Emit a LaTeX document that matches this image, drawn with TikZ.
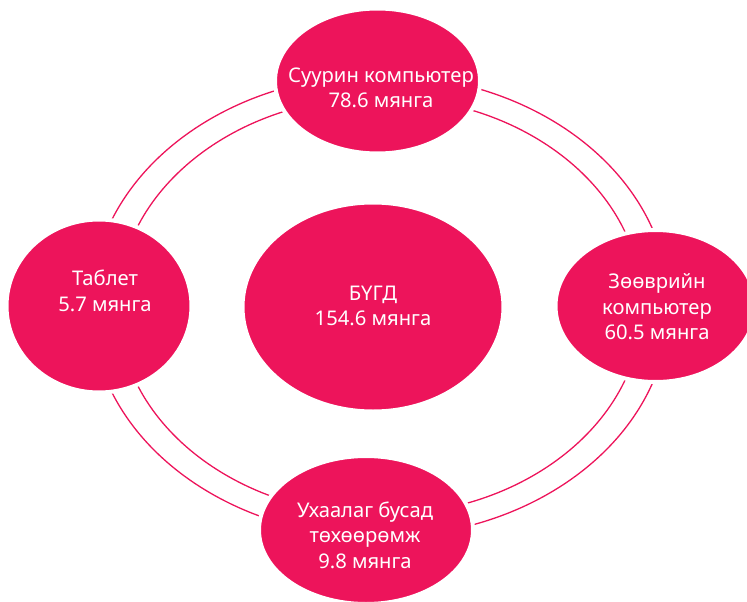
\documentclass[tikz,border=0pt]{standalone}
\usepackage{fontspec}
\setmainfont{Noto Sans}
\usepackage{tikz}
\usetikzlibrary{shapes.geometric}
\definecolor{dvpink}{RGB}{237,20,91}

\begin{document}
\begin{tikzpicture}[x=1pt,y=-1pt,
    font=\fontsize{20.2}{25.5}\selectfont,
    blob/.style={ellipse,fill=dvpink,draw=white,line width=4pt,inner sep=0pt},
    lbl/.style={text=white,align=center},
    ring/.style={draw=dvpink,line width=1.3pt}]
    \useasboundingbox (0,0) rectangle (747,602);
    % double ring behind the bubbles
    \coordinate (mid) at (380,306);
    \draw[ring] (mid) ellipse [x radius=289pt,y radius=231pt];
    \draw[ring] (mid) ellipse [x radius=262pt,y radius=209pt];

    \node[blob,minimum width=205pt,minimum height=145pt] (desk) at (377.5,81) {};
    \node[blob,minimum width=185pt,minimum height=173pt] (tab) at (99,306) {};
    \node[blob,minimum width=261pt,minimum height=209pt] (all) at (373,307) {};
    \node[blob,minimum width=200pt,minimum height=152pt] (lap) at (655.5,306) {};
    \node[blob,minimum width=214pt,minimum height=148pt] (smart) at (366,530) {};

    \node[lbl] (desk-t) at (381,88) {Суурин компьютер\\78.6 мянга};
    \node[lbl] (tab-t) at (105,291) {Таблет\\5.7 мянга};
    \node[lbl] (all-t) at (373,306) {БҮГД\\154.6 мянга};
    \node[lbl] (lap-t) at (657,307) {Зөөврийн\\компьютер\\60.5 мянга};
    \node[lbl] (smart-t) at (365,535) {Ухаалаг бусад\\төхөөрөмж\\9.8 мянга};
  \end{tikzpicture}
\end{document}
